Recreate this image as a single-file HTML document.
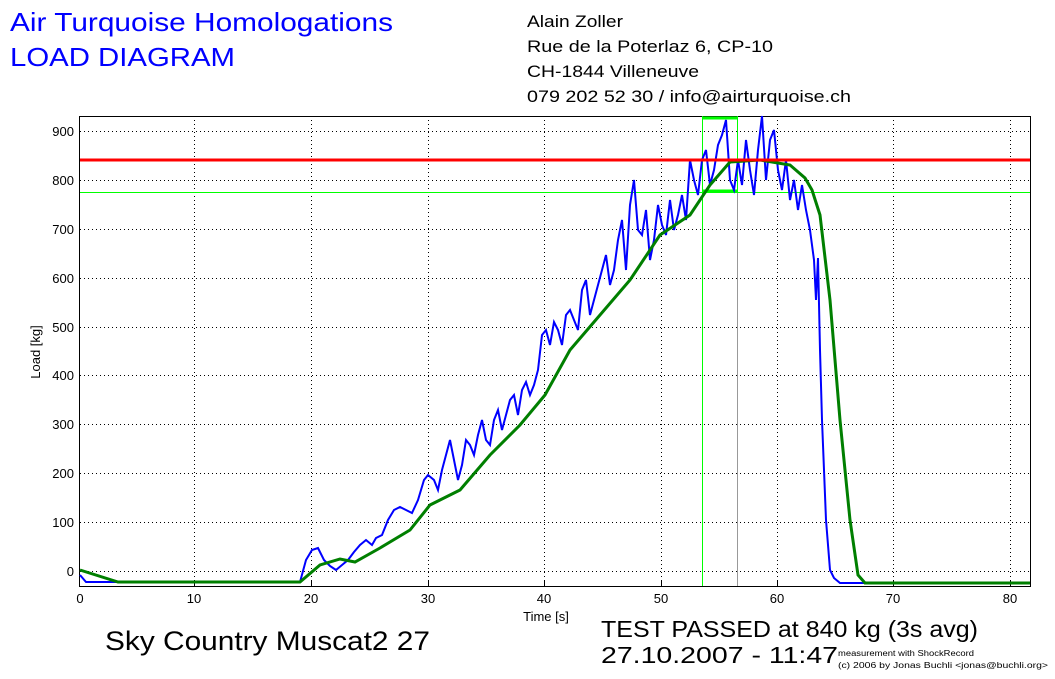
<!DOCTYPE html>
<html><head><meta charset="utf-8"><style>
body{margin:0;background:#fff;width:1055px;height:674px;overflow:hidden;font-family:"Liberation Sans",Arial,sans-serif;}
</style></head><body>
<svg width="1055" height="674" xmlns="http://www.w3.org/2000/svg" font-family="Liberation Sans, Arial, sans-serif">
<rect width="1055" height="674" fill="#fff"/>
<text x="10" y="31" font-size="26" fill="#0000ff" textLength="383" lengthAdjust="spacingAndGlyphs">Air Turquoise Homologations</text>
<text x="10" y="66" font-size="26" fill="#0000ff" textLength="225" lengthAdjust="spacingAndGlyphs">LOAD DIAGRAM</text>
<g font-size="17" fill="#000">
<text x="527" y="27" textLength="96" lengthAdjust="spacingAndGlyphs">Alain Zoller</text>
<text x="527" y="52" textLength="246" lengthAdjust="spacingAndGlyphs">Rue de la Poterlaz 6, CP-10</text>
<text x="527" y="77" textLength="172" lengthAdjust="spacingAndGlyphs">CH-1844 Villeneuve</text>
<text x="527" y="102" textLength="324" lengthAdjust="spacingAndGlyphs">079 202 52 30 / info@airturquoise.ch</text>
</g>
<g stroke="#000" stroke-width="1" stroke-dasharray="1,3">
<line x1="194.5" y1="116" x2="194.5" y2="586"/><line x1="311.5" y1="116" x2="311.5" y2="586"/>
<line x1="428.5" y1="116" x2="428.5" y2="586"/><line x1="544.5" y1="116" x2="544.5" y2="586"/>
<line x1="661.5" y1="116" x2="661.5" y2="586"/><line x1="777.5" y1="116" x2="777.5" y2="586"/>
<line x1="893.5" y1="116" x2="893.5" y2="586"/><line x1="1010.5" y1="116" x2="1010.5" y2="586"/>
<line x1="80" y1="131.5" x2="1030" y2="131.5"/><line x1="80" y1="180.5" x2="1030" y2="180.5"/>
<line x1="80" y1="229.5" x2="1030" y2="229.5"/><line x1="80" y1="278.5" x2="1030" y2="278.5"/>
<line x1="80" y1="327.5" x2="1030" y2="327.5"/><line x1="80" y1="375.5" x2="1030" y2="375.5"/>
<line x1="80" y1="424.5" x2="1030" y2="424.5"/><line x1="80" y1="473.5" x2="1030" y2="473.5"/>
<line x1="80" y1="522.5" x2="1030" y2="522.5"/><line x1="80" y1="571.5" x2="1030" y2="571.5"/>
</g>
<rect x="79.5" y="116.5" width="951" height="470" fill="none" stroke="#000"/>
<g stroke="#000">
<line x1="194.5" y1="586" x2="194.5" y2="581"/><line x1="311.5" y1="586" x2="311.5" y2="581"/><line x1="428.5" y1="586" x2="428.5" y2="581"/><line x1="544.5" y1="586" x2="544.5" y2="581"/><line x1="661.5" y1="586" x2="661.5" y2="581"/><line x1="777.5" y1="586" x2="777.5" y2="581"/><line x1="893.5" y1="586" x2="893.5" y2="581"/><line x1="1010.5" y1="586" x2="1010.5" y2="581"/>
</g>
<g font-size="13" fill="#000" text-anchor="end">
<text x="74" y="136">900</text><text x="74" y="185">800</text><text x="74" y="234">700</text><text x="74" y="283">600</text><text x="74" y="332">500</text><text x="74" y="380">400</text><text x="74" y="429">300</text><text x="74" y="478">200</text><text x="74" y="527">100</text><text x="74" y="576">0</text>
</g>
<g font-size="13" fill="#000" text-anchor="middle">
<text x="80" y="603">0</text><text x="194" y="603">10</text><text x="311" y="603">20</text><text x="428" y="603">30</text><text x="544" y="603">40</text><text x="661" y="603">50</text><text x="777" y="603">60</text><text x="893" y="603">70</text><text x="1010" y="603">80</text>
<text x="546" y="621">Time [s]</text>
</g>
<text transform="translate(40,352) rotate(-90)" font-size="13" text-anchor="middle">Load [kg]</text>
<line x1="702.5" y1="116" x2="702.5" y2="586" stroke="#00ff00"/>
<line x1="737.5" y1="116" x2="737.5" y2="586" stroke="#999"/>
<line x1="80" y1="192.5" x2="1030" y2="192.5" stroke="#00ff00"/>
<line x1="702" y1="118" x2="738" y2="118" stroke="#00ff00" stroke-width="3"/>
<line x1="702" y1="191" x2="738" y2="191" stroke="#00ff00" stroke-width="3"/>
<line x1="737.5" y1="116" x2="737.5" y2="192" stroke="#00ff00"/>
<polyline fill="none" stroke="#0000ff" stroke-width="2" points="80,575 86,582 300,582 306,560 312,550 318,548 324,560 330,566 336,570 342,565 348,560 354,552 360,545 366,540 372,545 376,538 382,535 388,520 394,510 400,507 406,510 412,513 418,500 424,480 428,475 434,480 438,490 442,470 446,455 450,440 454,460 458,480 462,465 466,440 470,445 474,455 478,435 482,420 486,440 490,445 494,420 498,410 502,430 506,415 510,400 514,395 518,415 522,390 526,382 530,395 534,385 538,370 542,335 546,330 550,345 554,322 558,330 562,345 566,315 570,310 574,320 578,330 582,290 586,280 590,315 594,300 598,285 602,270 606,255 610,285 614,270 618,240 622,220 626,270 630,205 634,180 638,230 642,235 646,210 650,260 654,240 658,205 662,225 666,235 670,200 674,230 678,215 682,195 686,220 690,160 694,180 698,195 702,160 706,150 710,185 714,170 718,145 722,135 726,120 730,180 734,190 738,160 742,185 746,140 750,170 754,195 758,150 762,116 766,180 770,140 774,130 778,170 782,190 786,160 790,200 794,180 798,210 802,185 806,210 810,230 814,260 816,300 818,258 820,350 822,420 826,520 830,570 834,578 840,583 1030,583"/>
<polyline fill="none" stroke="#007f00" stroke-width="3" points="80,570 118,582 300,582 320,565 340,559 355,562 380,548 410,530 430,505 460,490 490,455 520,425 545,395 570,350 600,315 630,280 660,235 690,215 710,185 730,162 760,160 790,165 805,178 812,190 820,215 830,300 840,420 850,520 858,575 865,583 1030,583"/>
<line x1="80" y1="160" x2="1030" y2="160" stroke="#ff0000" stroke-width="3"/>
<text x="105" y="650" font-size="27" fill="#000" textLength="325" lengthAdjust="spacingAndGlyphs">Sky Country Muscat2 27</text>
<text x="601" y="637" font-size="23" fill="#000" textLength="377" lengthAdjust="spacingAndGlyphs">TEST PASSED at 840 kg (3s avg)</text>
<text x="601" y="663" font-size="23" fill="#000" textLength="237" lengthAdjust="spacingAndGlyphs">27.10.2007 - 11:47</text>
<text x="838" y="656" font-size="8" fill="#000" textLength="136" lengthAdjust="spacingAndGlyphs">measurement with ShockRecord</text>
<text x="838" y="668" font-size="8" fill="#000" textLength="210" lengthAdjust="spacingAndGlyphs">(c) 2006 by Jonas Buchli &lt;jonas@buchli.org&gt;</text>
</svg>
</body></html>
